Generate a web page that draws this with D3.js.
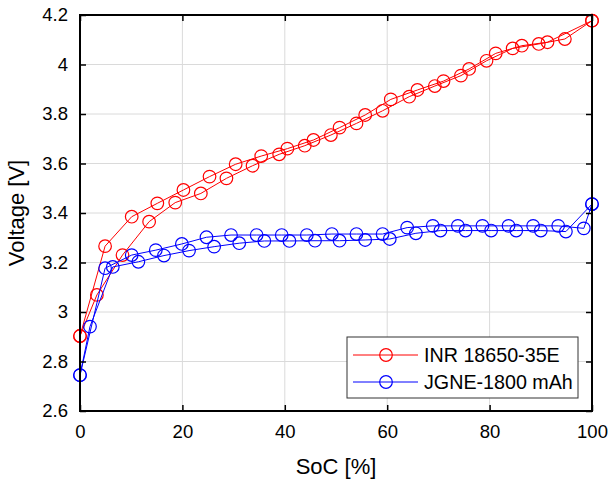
<!DOCTYPE html>
<html>
<head>
<meta charset="utf-8">
<script src="https://cdn.jsdelivr.net/npm/d3@7"></script>
<style>
  html, body { margin: 0; padding: 0; background: #fff; }
  svg { display: block; font-family: Arial, "Liberation Sans", sans-serif; }
</style>
</head>
<body>
<svg id="chart" width="611" height="484"></svg>
<script>
// ---- data ----
const seriesNames = ["INR 18650-35E", "JGNE-1800 mAh"];
const seriesColors = ["#ff0000", "#0000ff"];

// INR 18650-35E : two interleaved runs
const redRunAX = [0, 4.9, 10.1, 15.1, 20.2, 25.3, 30.4, 35.4, 40.5, 45.6, 50.7, 55.7, 60.7, 65.9, 71.0, 76.0, 81.2, 86.3, 91.3, 100];
const redRunAV = [2.903, 3.266, 3.385, 3.439, 3.493, 3.547, 3.597, 3.630, 3.660, 3.695, 3.745, 3.796, 3.859, 3.897, 3.933, 3.982, 4.045, 4.076, 4.090, 4.177];
const redRunBX = [0, 3.3, 8.3, 13.5, 18.6, 23.6, 28.6, 33.7, 38.9, 43.9, 49.0, 54.0, 59.1, 64.3, 69.3, 74.4, 79.4, 84.5, 89.6, 94.7, 100];
const redRunBV = [2.903, 3.069, 3.230, 3.365, 3.442, 3.479, 3.540, 3.591, 3.637, 3.672, 3.715, 3.762, 3.813, 3.870, 3.913, 3.955, 4.015, 4.065, 4.083, 4.103, 4.177];

// JGNE-1800 mAh : two interleaved runs
const blueRunAX = [0, 4.9, 10.1, 14.8, 19.9, 24.7, 29.5, 34.5, 39.4, 44.3, 49.2, 54.0, 59.1, 63.9, 68.9, 73.8, 78.6, 83.7, 88.5, 93.4, 98.4, 100];
const blueRunAV = [2.745, 3.177, 3.230, 3.250, 3.275, 3.302, 3.311, 3.311, 3.311, 3.311, 3.315, 3.315, 3.315, 3.341, 3.348, 3.348, 3.348, 3.348, 3.348, 3.348, 3.338, 3.436];
const blueRunBX = [0, 1.95, 6.4, 11.4, 16.4, 21.3, 26.2, 31.1, 36.0, 40.9, 45.9, 50.7, 55.7, 60.5, 65.6, 70.4, 75.3, 80.3, 85.2, 90.0, 94.9, 100];
const blueRunBV = [2.745, 2.941, 3.182, 3.203, 3.228, 3.248, 3.264, 3.278, 3.287, 3.287, 3.288, 3.288, 3.291, 3.295, 3.318, 3.329, 3.329, 3.329, 3.329, 3.329, 3.325, 3.436];

const xTicks = [0, 20, 40, 60, 80, 100];
const yTicks = [2.6, 2.8, 3.0, 3.2, 3.4, 3.6, 3.8, 4.0, 4.2];
const yTickLabels = ["2.6", "2.8", "3", "3.2", "3.4", "3.6", "3.8", "4", "4.2"];
const xLabel = "SoC [%]";
const yLabel = "Voltage [V]";

// ---- layout ----
const L = 80, R = 592, T = 15, B = 411;
const svg = d3.select("#chart");
const x = d3.scaleLinear().domain([0, 100]).range([L, R]);
const y = d3.scaleLinear().domain([2.6, 4.2]).range([B, T]);

// grid
const grid = svg.append("g");
grid.selectAll("line.gx").data(xTicks.slice(1, -1)).enter().append("line")
  .attr("x1", d => x(d)).attr("x2", d => x(d)).attr("y1", T).attr("y2", B)
  .attr("stroke", "#dadada").attr("stroke-width", 1);
grid.selectAll("line.gy").data(yTicks.slice(1, -1)).enter().append("line")
  .attr("y1", d => y(d)).attr("y2", d => y(d)).attr("x1", L).attr("x2", R)
  .attr("stroke", "#dadada").attr("stroke-width", 1);

// data
const runs = [
  { xs: redRunAX, vs: redRunAV, c: 0 },
  { xs: redRunBX, vs: redRunBV, c: 0 },
  { xs: blueRunAX, vs: blueRunAV, c: 1 },
  { xs: blueRunBX, vs: blueRunBV, c: 1 }
];
const line = d3.line().x(d => x(d[0])).y(d => y(d[1]));
const dataG = svg.append("g");
runs.forEach(r => {
  const pts = r.xs.map((v, i) => [v, r.vs[i]]);
  dataG.append("path").datum(pts).attr("d", line)
    .attr("fill", "none").attr("stroke", seriesColors[r.c]).attr("stroke-width", 1);
  dataG.selectAll(null).data(pts).enter().append("circle")
    .attr("cx", d => x(d[0])).attr("cy", d => y(d[1])).attr("r", 6.3)
    .attr("fill", "none").attr("stroke", seriesColors[r.c]).attr("stroke-width", 1.2);
});

// axes (MATLAB-style box with inward ticks)
const axG = svg.append("g");
const tickLen = 6;
const xAxisB = d3.axisBottom(x).tickValues(xTicks).tickSizeInner(-tickLen).tickSizeOuter(0).tickPadding(14);
const xAxisT = d3.axisTop(x).tickValues(xTicks).tickSizeInner(-tickLen).tickSizeOuter(0).tickFormat("");
const yAxisL = d3.axisLeft(y).tickValues(yTicks).tickSizeInner(-tickLen).tickSizeOuter(0).tickPadding(12)
  .tickFormat((d, i) => yTickLabels[i]);
const yAxisR = d3.axisRight(y).tickValues(yTicks).tickSizeInner(-tickLen).tickSizeOuter(0).tickFormat("");

function styleAxis(g) {
  g.select(".domain").remove();
  g.selectAll(".tick line").attr("stroke", "#000").attr("stroke-width", 1.5);
  g.selectAll(".tick text").attr("fill", "#000").style("font-size", "18.5px")
    .style("font-family", "Arial, 'Liberation Sans', sans-serif");
}
axG.append("g").attr("transform", `translate(0,${B})`).call(xAxisB).call(styleAxis);
axG.append("g").attr("transform", `translate(0,${T})`).call(xAxisT).call(styleAxis);
axG.append("g").attr("transform", `translate(${L},0)`).call(yAxisL).call(styleAxis);
axG.append("g").attr("transform", `translate(${R},0)`).call(yAxisR).call(styleAxis);

axG.append("rect").attr("x", L).attr("y", T).attr("width", R - L).attr("height", B - T)
  .attr("fill", "none").attr("stroke", "#000").attr("stroke-width", 2);

// axis labels
svg.append("text").attr("x", (L + R) / 2).attr("y", 474).attr("text-anchor", "middle")
  .style("font-size", "22px").attr("fill", "#000").text(xLabel);
svg.append("text").attr("transform", `translate(24,${(T + B) / 2}) rotate(-90)`)
  .attr("text-anchor", "middle").style("font-size", "22px").attr("fill", "#000").text(yLabel);

// legend
const lg = svg.append("g");
lg.append("rect").attr("x", 347).attr("y", 337).attr("width", 231).attr("height", 61)
  .attr("fill", "#fff").attr("stroke", "#333").attr("stroke-width", 1);
const rowY = [355, 382];
seriesNames.forEach((name, i) => {
  lg.append("line").attr("x1", 353).attr("x2", 418).attr("y1", rowY[i]).attr("y2", rowY[i])
    .attr("stroke", seriesColors[i]).attr("stroke-width", 1);
  lg.append("circle").attr("cx", 386).attr("cy", rowY[i]).attr("r", 6.3)
    .attr("fill", "none").attr("stroke", seriesColors[i]).attr("stroke-width", 1.2);
  lg.append("text").attr("x", 424).attr("y", rowY[i]).attr("dy", "0.35em")
    .style("font-size", "19.7px").attr("fill", "#000").text(name);
});
</script>
</body>
</html>
